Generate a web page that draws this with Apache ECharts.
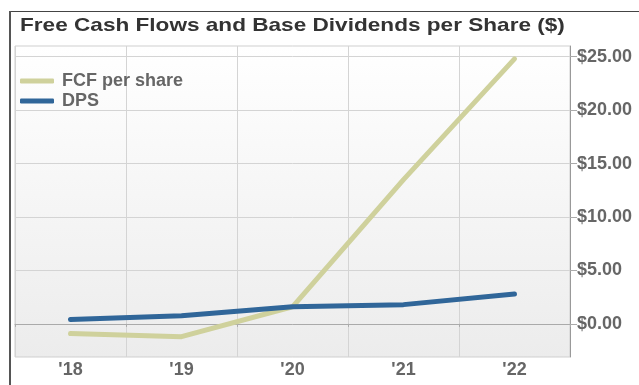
<!DOCTYPE html>
<html>
<head>
<meta charset="utf-8">
<script src="https://cdn.jsdelivr.net/npm/echarts@6/dist/echarts.min.js"></script>
<style>
  html, body { margin: 0; padding: 0; background: #fff; }
  #chart { width: 639px; height: 385px; }
</style>
</head>
<body>
<div id="chart"></div>
<script>
// Fiscal years shown on the category axis
const years = ["'18", "'19", "'20", "'21", "'22"];
// Free cash flow per share, $
const fcfPerShare = [-0.9, -1.2, 1.6, 13.5, 24.8];
// Base dividends per share, $
const dps = [0.4, 0.75, 1.6, 1.8, 2.8];
// Dollar ticks on the right-hand axis
const yTicks = [0, 5, 10, 15, 20, 25];

const chart = echarts.init(document.getElementById('chart'), null, { renderer: 'canvas' });

const FONT = 'Liberation Sans, Arial, sans-serif';
const labelFont = {
  color: '#666',
  fontFamily: FONT,
  fontWeight: 'bold',
  fontSize: 18
};

chart.setOption({
  animation: false,
  backgroundColor: '#fff',
  graphic: [
    // outer frame: top and left edges
    { type: 'line', shape: { x1: 9, y1: 11.5, x2: 639, y2: 11.5 }, style: { stroke: '#444', lineWidth: 1 }, silent: true },
    { type: 'line', shape: { x1: 10, y1: 11, x2: 10, y2: 385 }, style: { stroke: '#555', lineWidth: 2 }, silent: true },
    // chart heading, set in a widened bold face
    {
      type: 'text',
      x: 20,
      y: 26,
      scaleX: 1.215,
      silent: true,
      style: {
        text: 'Free Cash Flows and Base Dividends per Share ($)',
        fill: '#333',
        font: 'bold 18.6px ' + FONT,
        verticalAlign: 'middle',
        align: 'left'
      }
    }
  ],
  legend: {
    orient: 'vertical',
    left: 15,
    top: 67,
    itemWidth: 34,
    itemHeight: 5,
    itemGap: 2,
    icon: 'roundRect',
    textStyle: Object.assign({}, labelFont, { padding: [0, 0, 0, 3] }),
    data: ['FCF per share', 'DPS']
  },
  grid: {
    left: 15,
    right: 69,
    top: 46,
    bottom: 28,
    show: true,
    borderColor: '#cfcfcf',
    borderWidth: 1,
    backgroundColor: new echarts.graphic.LinearGradient(0, 0, 0, 1, [
      { offset: 0, color: '#ffffff' },
      { offset: 1, color: '#ececec' }
    ])
  },
  xAxis: {
    type: 'category',
    data: years,
    boundaryGap: true,
    axisLine: { show: true, lineStyle: { color: '#aaa', width: 1 } },
    axisTick: { show: true, length: 3, alignWithLabel: false, lineStyle: { color: '#aaa' } },
    axisLabel: Object.assign({}, labelFont, { margin: 4 }),
    splitLine: { show: true, lineStyle: { color: '#d4d4d4', width: 1 } }
  },
  yAxis: {
    type: 'value',
    position: 'right',
    min: -3.1,
    max: 26,
    axisLine: { show: true, lineStyle: { color: '#999', width: 1 } },
    axisTick: { show: true, length: 7, inside: false, customValues: yTicks, lineStyle: { color: '#aaa' } },
    axisLabel: Object.assign({}, labelFont, {
      margin: 7,
      customValues: yTicks,
      formatter: v => '$' + v.toFixed(2)
    }),
    splitLine: { show: true, lineStyle: { color: '#d4d4d4', width: 1 } }
  },
  series: [
    {
      name: 'FCF per share',
      type: 'line',
      data: fcfPerShare,
      showSymbol: false,
      symbol: 'none',
      color: '#cfd19c',
      lineStyle: { width: 5, color: '#cfd19c', cap: 'round', join: 'round' },
      z: 3
    },
    {
      name: 'DPS',
      type: 'line',
      data: dps,
      showSymbol: false,
      symbol: 'none',
      color: '#306699',
      lineStyle: { width: 5, color: '#306699', cap: 'round', join: 'round' },
      z: 4
    }
  ]
});
</script>
</body>
</html>
